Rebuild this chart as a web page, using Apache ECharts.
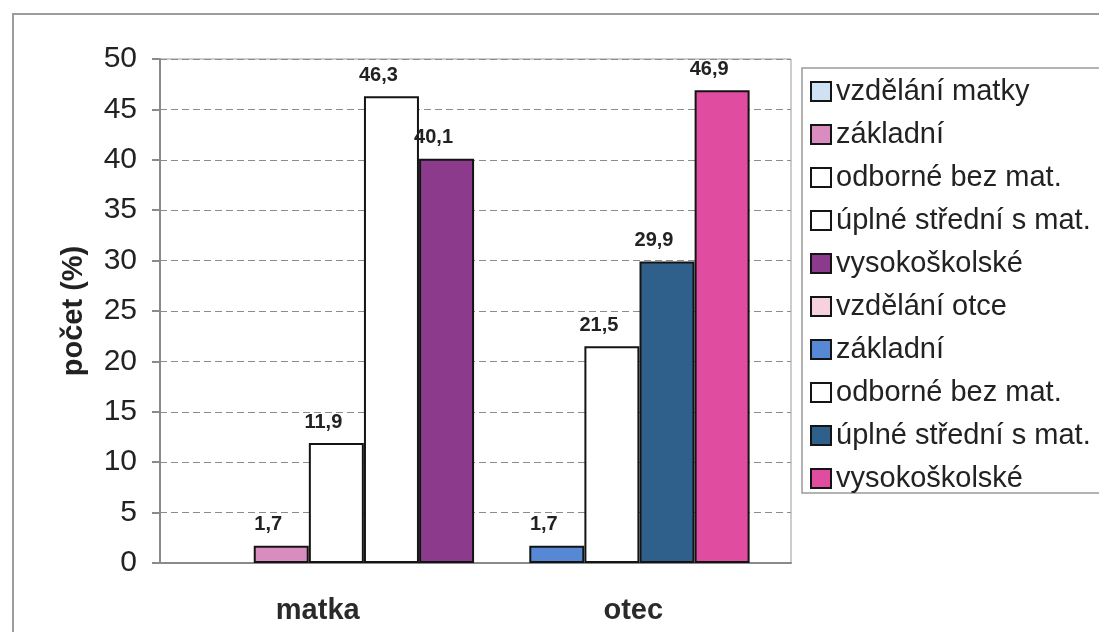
<!DOCTYPE html>
<html>
<head>
<meta charset="utf-8">
<title>Vzdělání rodičů</title>
<script src="https://cdn.jsdelivr.net/npm/echarts@6/dist/echarts.min.js"></script>
<style>
  html, body { margin: 0; padding: 0; background: #ffffff; }
  #chart { width: 1099px; height: 632px; }
</style>
</head>
<body>
<div id="chart"></div>
<script>
// Education level of mother and father, share in percent
const categories = ['matka', 'otec'];
const groupTitles = ['vzdělání matky', 'vzdělání otce'];
const levels = ['základní', 'odborné bez mat.', 'úplné střední s mat.', 'vysokoškolské'];
const matkaValues = [1.7, 11.9, 46.3, 40.1];
const otecValues = [1.7, 21.5, 29.9, 46.9];
const yTickMin = 0, yTickMax = 50, yTickStep = 5;

// fill colours: group title first, then one per level
const matkaColors = ['#cfe2f3', '#d98cbf', '#ffffff', '#ffffff', '#8b3a8c'];
const otecColors = ['#f6d2df', '#5688d6', '#ffffff', '#2f5f8b', '#e04c9f'];

const FONT = '"Liberation Sans", Arial, sans-serif';
const values = [matkaValues, otecValues];
const colors = [matkaColors, otecColors];
const slotsPerGroup = levels.length + 1;

const fmt = v => String(v).replace('.', ',');

const series = [];
categories.forEach((cat, ci) => {
  const base = {
    type: 'bar',
    xAxisIndex: 1,
    barWidth: 55,
    barGap: '-100%'
  };
  series.push(Object.assign({}, base, {
    name: groupTitles[ci],
    data: [],
    itemStyle: { color: colors[ci][0], borderColor: '#141414', borderWidth: 2 }
  }));
  levels.forEach((lv, li) => {
    const slot = ci * slotsPerGroup + li + 1;
    series.push(Object.assign({}, base, {
      name: cat + ': ' + lv,
      data: [[slot, values[ci][li]]],
      itemStyle: { color: colors[ci][li + 1], borderColor: '#141414', borderWidth: 2 },
      label: {
        show: true,
        position: 'top',
        distance: 11,
        offset: [-13, 0],
        formatter: p => fmt(p.value[1]),
        fontFamily: FONT,
        fontWeight: 'bold',
        fontSize: 20,
        color: '#222'
      }
    }));
  });
});

const chart = echarts.init(document.getElementById('chart'), null, { renderer: 'canvas' });
chart.setOption({
  backgroundColor: '#ffffff',
  animation: false,
  graphic: [{
    type: 'rect',
    silent: true,
    z: -10,
    shape: { x: 13, y: 14, width: 1300, height: 800 },
    style: { fill: 'none', stroke: '#9c9c9c', lineWidth: 2 }
  }],
  grid: {
    left: 160, right: 308, top: 59, bottom: 69,
    show: true, borderColor: '#9a9a9a', borderWidth: 1, backgroundColor: 'transparent'
  },
  legend: {
    orient: 'vertical',
    left: 802, top: 68,
    padding: [9, 12, 0, 8],
    itemGap: 14,
    itemWidth: 20, itemHeight: 19,
    icon: 'rect',
    borderColor: '#9a9a9a', borderWidth: 1.5,
    selectedMode: false,
    formatter: name => name.includes(': ') ? name.split(': ')[1] : name,
    textStyle: { fontFamily: FONT, fontSize: 29, color: '#222', lineHeight: 29 }
  },
  xAxis: [{
    type: 'category',
    data: categories,
    boundaryGap: true,
    axisLine: { show: true, onZero: false, lineStyle: { color: '#8a8a8a', width: 2 } },
    axisTick: { show: false },
    axisLabel: { fontFamily: FONT, fontWeight: 'bold', fontSize: 29, color: '#2a2a2a', margin: 33 },
    splitLine: { show: false }
  }, {
    type: 'value',
    min: -1.2, max: 10.25,
    show: false,
    axisLine: { show: false, onZero: false },
    splitLine: { show: false }
  }],
  yAxis: {
    type: 'value',
    min: yTickMin, max: yTickMax, interval: yTickStep,
    name: 'počet (%)',
    nameLocation: 'middle',
    nameGap: 72,
    nameRotate: 90,
    nameTextStyle: { fontFamily: FONT, fontWeight: 'bold', fontSize: 29, color: '#222' },
    axisLine: { show: true, onZero: false, lineStyle: { color: '#8a8a8a', width: 2 } },
    axisTick: { show: true, inside: false, length: 8, lineStyle: { color: '#8a8a8a', width: 2 } },
    axisLabel: { fontFamily: FONT, fontSize: 30, color: '#222', margin: 23 },
    splitLine: { show: true, lineStyle: { color: '#8c8c8c', width: 1, type: [7, 4] } }
  },
  series: series
});
</script>
</body>
</html>
